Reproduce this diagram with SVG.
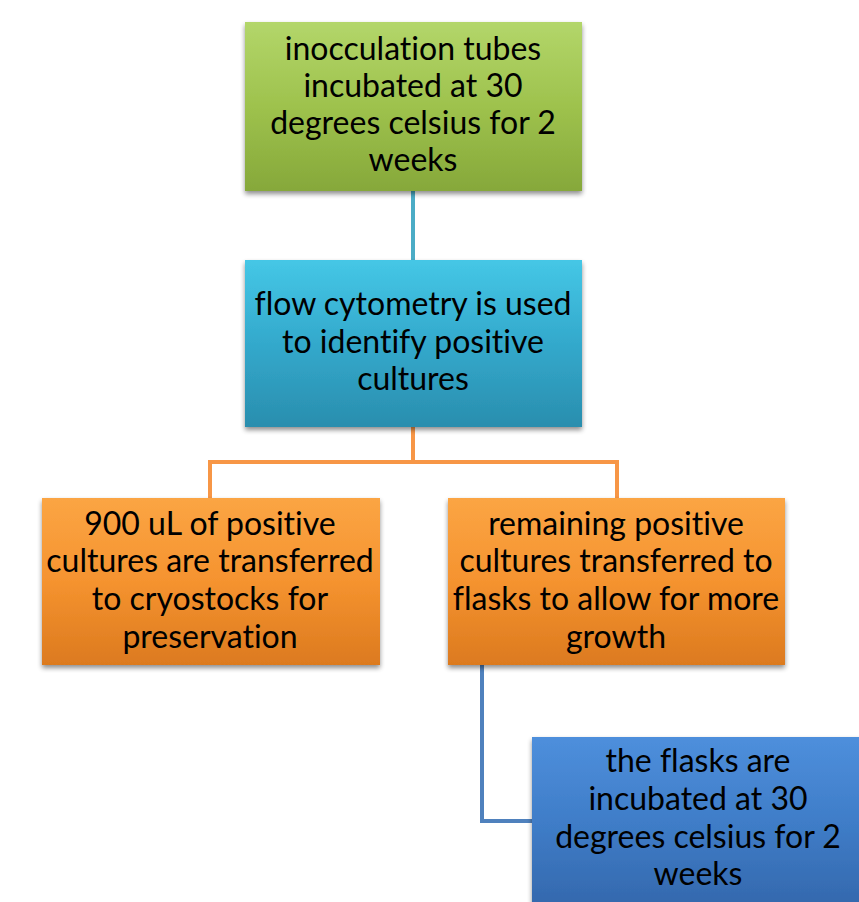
<svg xmlns="http://www.w3.org/2000/svg" width="859" height="902" viewBox="0 0 859 902">
<defs>
<linearGradient id="gGreen" x1="0" y1="0" x2="0" y2="1">
<stop offset="0" stop-color="#b3d66a"/><stop offset="0.5" stop-color="#9ec24d"/><stop offset="1" stop-color="#86a83a"/>
</linearGradient>
<linearGradient id="gCyan" x1="0" y1="0" x2="0" y2="1">
<stop offset="0" stop-color="#45c7e6"/><stop offset="0.5" stop-color="#33a9cc"/><stop offset="1" stop-color="#2a8eae"/>
</linearGradient>
<linearGradient id="gOrange" x1="0" y1="0" x2="0" y2="1">
<stop offset="0" stop-color="#fba544"/><stop offset="0.5" stop-color="#f5932f"/><stop offset="1" stop-color="#dc7a1f"/>
</linearGradient>
<linearGradient id="gBlue" x1="0" y1="0" x2="0" y2="1">
<stop offset="0" stop-color="#4e8fdc"/><stop offset="0.5" stop-color="#3f7dc8"/><stop offset="1" stop-color="#3468ad"/>
</linearGradient>
<filter id="sh" x="-10%" y="-10%" width="120%" height="125%">
<feGaussianBlur in="SourceAlpha" stdDeviation="2.5"/>
<feOffset dx="0" dy="3" result="b"/>
<feComponentTransfer><feFuncA type="linear" slope="0.45"/></feComponentTransfer>
<feMerge><feMergeNode/><feMergeNode in="SourceGraphic"/></feMerge>
</filter>
</defs>
<style>
.box{filter:url(#sh);}
.t{font-family:"Lato","Liberation Sans",sans-serif;font-size:32px;fill:#000;text-anchor:middle;font-variant-ligatures:none;}
.c{fill:none;stroke-width:4;}
</style>
<g id="connectors">
<path class="c" stroke="#4bacc6" d="M413 191 V262"/>
<path class="c" stroke="#f79646" d="M413 427 V462 H210 V498 M413 462 H617 V498"/>
<path class="c" stroke="#4f81bd" d="M482 665 V821 H533"/>
</g>
<g id="n1">
<rect class="box" x="245" y="22" width="337" height="169" fill="url(#gGreen)"/>
<text class="t" x="413" y="60">inocculation tubes</text>
<text class="t" x="413" y="97">incubated at 30</text>
<text class="t" x="413" y="134">degrees celsius for 2</text>
<text class="t" x="413" y="171">weeks</text>
</g>
<g id="n2">
<rect class="box" x="245" y="260" width="337" height="167" fill="url(#gCyan)"/>
<text class="t" x="413" y="315">flow cytometry is used</text>
<text class="t" x="413" y="353">to identify positive</text>
<text class="t" x="413" y="390">cultures</text>
</g>
<g id="n3">
<rect class="box" x="42" y="498" width="338" height="167" fill="url(#gOrange)"/>
<text class="t" x="210" y="535">900 uL of positive</text>
<text class="t" x="210" y="572">cultures are transferred</text>
<text class="t" x="210" y="610">to cryostocks for</text>
<text class="t" x="210" y="648">preservation</text>
</g>
<g id="n4">
<rect class="box" x="448" y="498" width="337" height="167" fill="url(#gOrange)"/>
<text class="t" x="616" y="535">remaining positive</text>
<text class="t" x="616" y="572">cultures transferred to</text>
<text class="t" x="616" y="610">flasks to allow for more</text>
<text class="t" x="616" y="648">growth</text>
</g>
<g id="n5">
<rect class="box" x="532" y="737" width="335" height="170" fill="url(#gBlue)"/>
<text class="t" x="698" y="772">the flasks are</text>
<text class="t" x="698" y="810">incubated at 30</text>
<text class="t" x="698" y="848">degrees celsius for 2</text>
<text class="t" x="698" y="885">weeks</text>
</g>
</svg>
